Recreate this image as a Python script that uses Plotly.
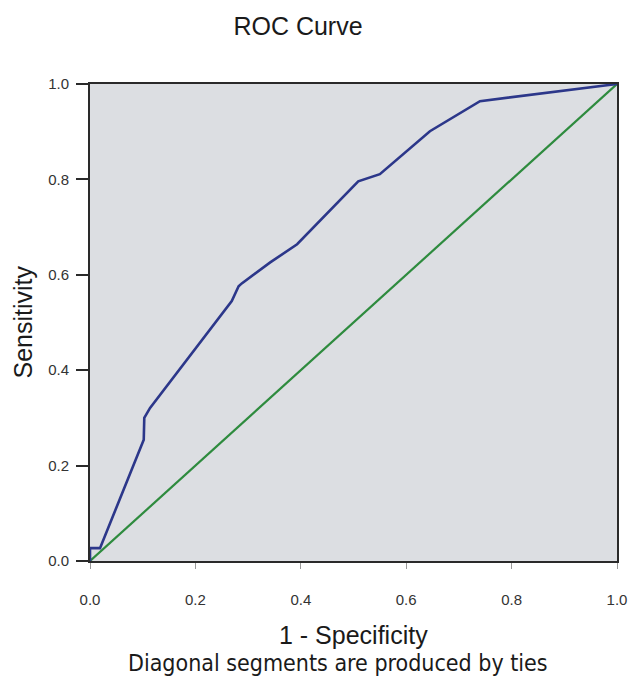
import plotly.graph_objects as go

# ROC curve data (1 - specificity, sensitivity)
fpr = [0.0, 0.0, 0.019, 0.102, 0.103, 0.114, 0.269, 0.282, 0.288, 0.342, 0.393,
       0.509, 0.550, 0.645, 0.740, 1.0]
tpr = [0.0, 0.027, 0.027, 0.254, 0.300, 0.321, 0.545, 0.576, 0.582, 0.626, 0.664,
       0.796, 0.811, 0.901, 0.964, 1.0]
ref_x = [0.0, 1.0]
ref_y = [0.0, 1.0]
tick_vals = [0.0, 0.2, 0.4, 0.6, 0.8, 1.0]
tick_text = ["0.0", "0.2", "0.4", "0.6", "0.8", "1.0"]

W, H = 628, 678
L, R, T, B = 90, 11, 84, 117

fig = go.Figure()
fig.add_trace(go.Scatter(x=ref_x, y=ref_y, mode="lines",
                         line=dict(color="#2e8b3e", width=2.2), cliponaxis=False,
                         hoverinfo="skip"))
fig.add_trace(go.Scatter(x=fpr, y=tpr, mode="lines",
                         line=dict(color="#2c378a", width=2.6), cliponaxis=False))

tickfont = dict(family="Liberation Sans, Arial", size=15, color="#333333")
fig.update_layout(
    width=W, height=H,
    margin=dict(l=L, r=R, t=T, b=B, autoexpand=False),
    paper_bgcolor="white",
    plot_bgcolor="#dcdee2",
    showlegend=False,
    title=dict(text="ROC Curve", x=298 / W, xref="container", xanchor="center",
               y=1 - 26 / H, yref="container", yanchor="middle",
               font=dict(family="Liberation Sans, Arial", size=25, color="#1a1a1a")),
    xaxis=dict(range=[0, 1], tickvals=tick_vals, ticktext=tick_text,
               showgrid=False, zeroline=False, automargin=False,
               showline=True, linecolor="#2a2a2a", linewidth=2, mirror=True,
               ticks="outside", ticklen=6, tickcolor="#999999", tickwidth=1,
               ticklabelstandoff=18, tickfont=tickfont),
    yaxis=dict(range=[0, 1], tickvals=tick_vals, ticktext=tick_text,
               showgrid=False, zeroline=False, automargin=False,
               showline=True, linecolor="#2a2a2a", linewidth=2, mirror=True,
               ticks="outside", ticklen=12, tickcolor="#2a2a2a", tickwidth=2,
               ticklabelstandoff=4, tickfont=tickfont),
)

fig.add_annotation(text="Sensitivity", xref="paper", yref="paper",
                   x=-(L - 22) / (W - L - R), y=0.5, xanchor="center", yanchor="middle",
                   textangle=-90, showarrow=False,
                   font=dict(family="Liberation Sans, Arial", size=25, color="#1a1a1a"))
fig.add_annotation(text="1 - Specificity", xref="paper", yref="paper",
                   x=0.5, y=-(635 - 561) / (H - T - B), xanchor="center", yanchor="middle",
                   showarrow=False,
                   font=dict(family="Liberation Sans, Arial", size=25, color="#1a1a1a"))
fig.add_annotation(text="Diagonal segments are produced by ties", xref="paper", yref="paper",
                   x=(338 - L) / (W - L - R), y=-(663 - 561) / (H - T - B),
                   xanchor="center", yanchor="middle", showarrow=False,
                   font=dict(family="DejaVu Sans Condensed, Liberation Sans",
                             size=23, color="#1a1a1a"))

fig.write_html("out.html", config={"displayModeBar": False},
               post_script="document.body.style.margin='0';document.body.style.overflow='hidden';")
